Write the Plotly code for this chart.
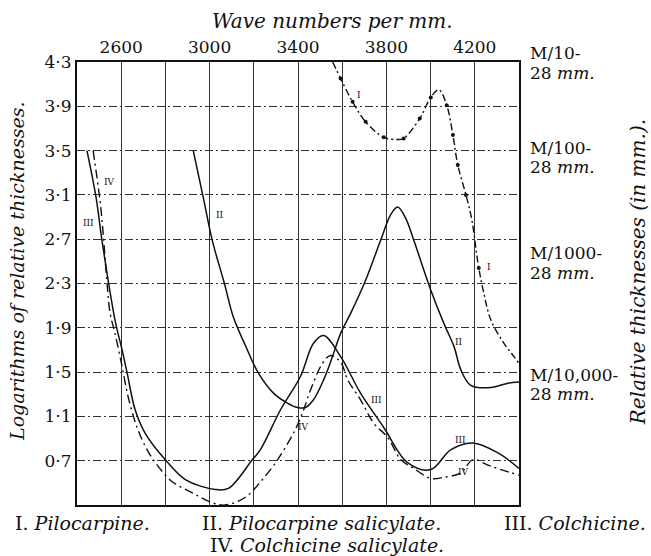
import plotly.graph_objects as go

# ---------------- data ----------------
x_tick_vals = [2600, 3000, 3400, 3800, 4200]
x_tick_text = ["2600", "3000", "3400", "3800", "4200"]
x_minor_vals = [2800, 3200, 3600, 4000]
y_tick_vals = [0.7, 1.1, 1.5, 1.9, 2.3, 2.7, 3.1, 3.5, 3.9, 4.3]
y_tick_text = ["0·7", "1·1", "1·5", "1·9", "2·3", "2·7", "3·1", "3·5", "3·9", "4·3"]

# I. Pilocarpine
I_x = [3557, 3593, 3647, 3706, 3788, 3851, 3878, 3951, 4001, 4037, 4073, 4101,
       4123, 4160, 4187, 4214, 4241, 4273, 4332, 4377, 4400]
I_y = [4.30, 4.15, 3.94, 3.76, 3.62, 3.60, 3.61, 3.79, 3.98, 4.05, 3.91, 3.64,
       3.37, 3.10, 2.87, 2.49, 2.21, 1.97, 1.76, 1.64, 1.58]
I_dot_x = [3593, 3647, 3706, 3788, 3878, 3951, 4001, 4073, 4101, 4123, 4160, 4218]
I_dot_y = [4.15, 3.94, 3.76, 3.62, 3.61, 3.79, 3.98, 3.91, 3.64, 3.37, 3.10, 2.44]

# II. Pilocarpine salicylate
II_x = [2926, 2971, 3012, 3067, 3107, 3162, 3221, 3289, 3352, 3398, 3434, 3470,
        3516, 3556, 3593, 3638, 3706, 3774, 3819, 3851, 3887, 3924, 4001, 4060,
        4106, 4137, 4182, 4273, 4350, 4400]
II_y = [3.50, 3.08, 2.69, 2.30, 2.00, 1.74, 1.49, 1.31, 1.22, 1.18, 1.18, 1.25,
        1.43, 1.64, 1.85, 2.03, 2.33, 2.69, 2.92, 2.99, 2.89, 2.69, 2.24, 1.94,
        1.73, 1.52, 1.38, 1.36, 1.40, 1.41]

# III. Colchicine
III_x = [2445, 2486, 2513, 2572, 2604, 2627, 2663, 2708, 2799, 2890, 3026, 3085,
         3194, 3230, 3321, 3411, 3470, 3516, 3593, 3683, 3788, 3897, 4001, 4092,
         4191, 4305, 4400]
III_y = [3.50, 3.08, 2.69, 1.97, 1.70, 1.49, 1.16, 0.95, 0.71, 0.53, 0.44, 0.45,
         0.71, 0.80, 1.16, 1.46, 1.76, 1.83, 1.64, 1.31, 1.00, 0.68, 0.62, 0.80,
         0.86, 0.77, 0.63]

# IV. Colchicine salicylate
IV_x = [2473, 2504, 2518, 2536, 2550, 2572, 2604, 2631, 2672, 2717, 2763, 2831,
        2922, 3012, 3071, 3162, 3239, 3298, 3321, 3380, 3420, 3457, 3511, 3547,
        3593, 3625, 3683, 3742, 3806, 3865, 3924, 4001, 4060, 4137, 4191, 4259,
        4318, 4400]
IV_y = [3.50, 3.05, 2.76, 2.30, 2.03, 1.85, 1.55, 1.28, 1.00, 0.80, 0.66, 0.51,
        0.41, 0.32, 0.30, 0.37, 0.53, 0.68, 0.75, 0.95, 1.13, 1.34, 1.58, 1.65,
        1.59, 1.43, 1.25, 1.04, 0.91, 0.71, 0.63, 0.54, 0.55, 0.59, 0.71, 0.66,
        0.62, 0.57]

# curve labels
lab_text = ["I", "I", "II", "II", "III", "III", "III", "IV", "IV", "IV"]
lab_x = [3674, 4262, 3045, 4128, 2452, 3755, 4137, 2545, 3425, 4151]
lab_y = [4.00, 2.45, 2.92, 1.77, 2.85, 1.25, 0.89, 3.22, 1.00, 0.60]

# right-hand concentration labels (two lines each), positions in paper fractions
conc_line1 = ["M/10-", "M/100-", "M/1000-", "M/10,000-"]
conc_line1_pos = [1.020, 0.806, 0.569, 0.293]
conc_line2 = ["28 <i>mm.</i>", "28 <i>mm.</i>", "28 <i>mm.</i>", "28 <i>mm.</i>"]
conc_line2_pos = [0.975, 0.763, 0.524, 0.251]

FONT = "DejaVu Serif"
INK = "#111111"

fig = go.Figure()

fig.add_trace(go.Scatter(x=I_x, y=I_y, mode="lines", line_shape="spline",
                         line=dict(color=INK, width=1.4, dash="7px,3px,2px,3px"),
                         showlegend=False, hoverinfo="skip"))
fig.add_trace(go.Scatter(x=I_dot_x, y=I_dot_y, mode="markers",
                         marker=dict(color=INK, size=4),
                         showlegend=False, hoverinfo="skip"))
fig.add_trace(go.Scatter(x=II_x, y=II_y, mode="lines", line_shape="spline",
                         line=dict(color=INK, width=1.5),
                         showlegend=False, hoverinfo="skip"))
fig.add_trace(go.Scatter(x=III_x, y=III_y, mode="lines", line_shape="spline",
                         line=dict(color=INK, width=1.5),
                         showlegend=False, hoverinfo="skip"))
fig.add_trace(go.Scatter(x=IV_x, y=IV_y, mode="lines", line_shape="spline",
                         line=dict(color=INK, width=1.4, dash="9px,4px,2px,4px"),
                         showlegend=False, hoverinfo="skip"))

annotations = []
for t, x, y in zip(lab_text, lab_x, lab_y):
    annotations.append(dict(x=x, y=y, xref="x", yref="y", text=t, showarrow=False,
                            yanchor="middle",
                            font=dict(family=FONT, size=9, color=INK)))

for t, y in zip(conc_line1 + conc_line2, conc_line1_pos + conc_line2_pos):
    annotations.append(dict(x=1.02, y=y, xref="paper", yref="paper", xanchor="left",
                            yanchor="middle", showarrow=False, text=t,
                            font=dict(family=FONT, size=17, color=INK)))

annotations += [
    dict(x=0.577, y=1.093, xref="paper", yref="paper", showarrow=False, yanchor="middle",
         text="<i>Wave numbers per mm.</i>", font=dict(family=FONT, size=20, color=INK)),
    dict(x=-0.136, y=0.528, xref="paper", yref="paper", showarrow=False, textangle=-90,
         xanchor="center", yanchor="middle",
         text="<i>Logarithms of relative thicknesses.</i>",
         font=dict(family=FONT, size=19, color=INK)),
    dict(x=1.27, y=0.526, xref="paper", yref="paper", showarrow=False, textangle=-90,
         xanchor="center", yanchor="middle",
         text="<i>Relative thicknesses (in mm.).</i>",
         font=dict(family=FONT, size=20, color=INK)),
    dict(x=-0.145, y=-0.041, xref="paper", yref="paper", xanchor="left", yanchor="middle",
         showarrow=False,
         text="I. <i>Pilocarpine.</i>", font=dict(family=FONT, size=19, color=INK)),
    dict(x=0.278, y=-0.041, xref="paper", yref="paper", xanchor="left", yanchor="middle",
         showarrow=False,
         text="II. <i>Pilocarpine salicylate.</i>", font=dict(family=FONT, size=19, color=INK)),
    dict(x=1.292, y=-0.041, xref="paper", yref="paper", xanchor="right", yanchor="middle",
         showarrow=False,
         text="III. <i>Colchicine.</i>", font=dict(family=FONT, size=19, color=INK)),
    dict(x=0.566, y=-0.090, xref="paper", yref="paper", yanchor="middle", showarrow=False,
         text="IV. <i>Colchicine salicylate.</i>", font=dict(family=FONT, size=19, color=INK)),
]

grid_col = "#333333"
fig.update_layout(
    width=651, height=556,
    margin=dict(l=77, r=132, t=62, b=51, autoexpand=False),
    paper_bgcolor="white", plot_bgcolor="white",
    font=dict(family=FONT, color=INK),
    annotations=annotations,
    xaxis=dict(range=[2400, 4400], side="top", tickmode="array",
               tickvals=x_tick_vals, ticktext=x_tick_text, ticks="",
               tickfont=dict(family=FONT, size=17, color=INK),
               showgrid=True, gridcolor=grid_col, gridwidth=1,
               minor=dict(tickmode="array", tickvals=x_minor_vals, showgrid=True,
                          gridcolor=grid_col, gridwidth=1, ticks=""),
               showline=True, linecolor=INK, linewidth=2, mirror=True,
               zeroline=False, fixedrange=True),
    yaxis=dict(range=[0.3, 4.3], tickmode="array", tickvals=y_tick_vals,
               ticktext=y_tick_text, ticks="",
               tickfont=dict(family=FONT, size=17, color=INK),
               showgrid=True, gridcolor=grid_col, gridwidth=1,
               griddash="8px,3px,2px,3px",
               showline=True, linecolor=INK, linewidth=2, mirror=True,
               zeroline=False, fixedrange=True),
)

fig.write_html("out.html", config={"displayModeBar": False},
               post_script="document.body.style.margin='0';")
